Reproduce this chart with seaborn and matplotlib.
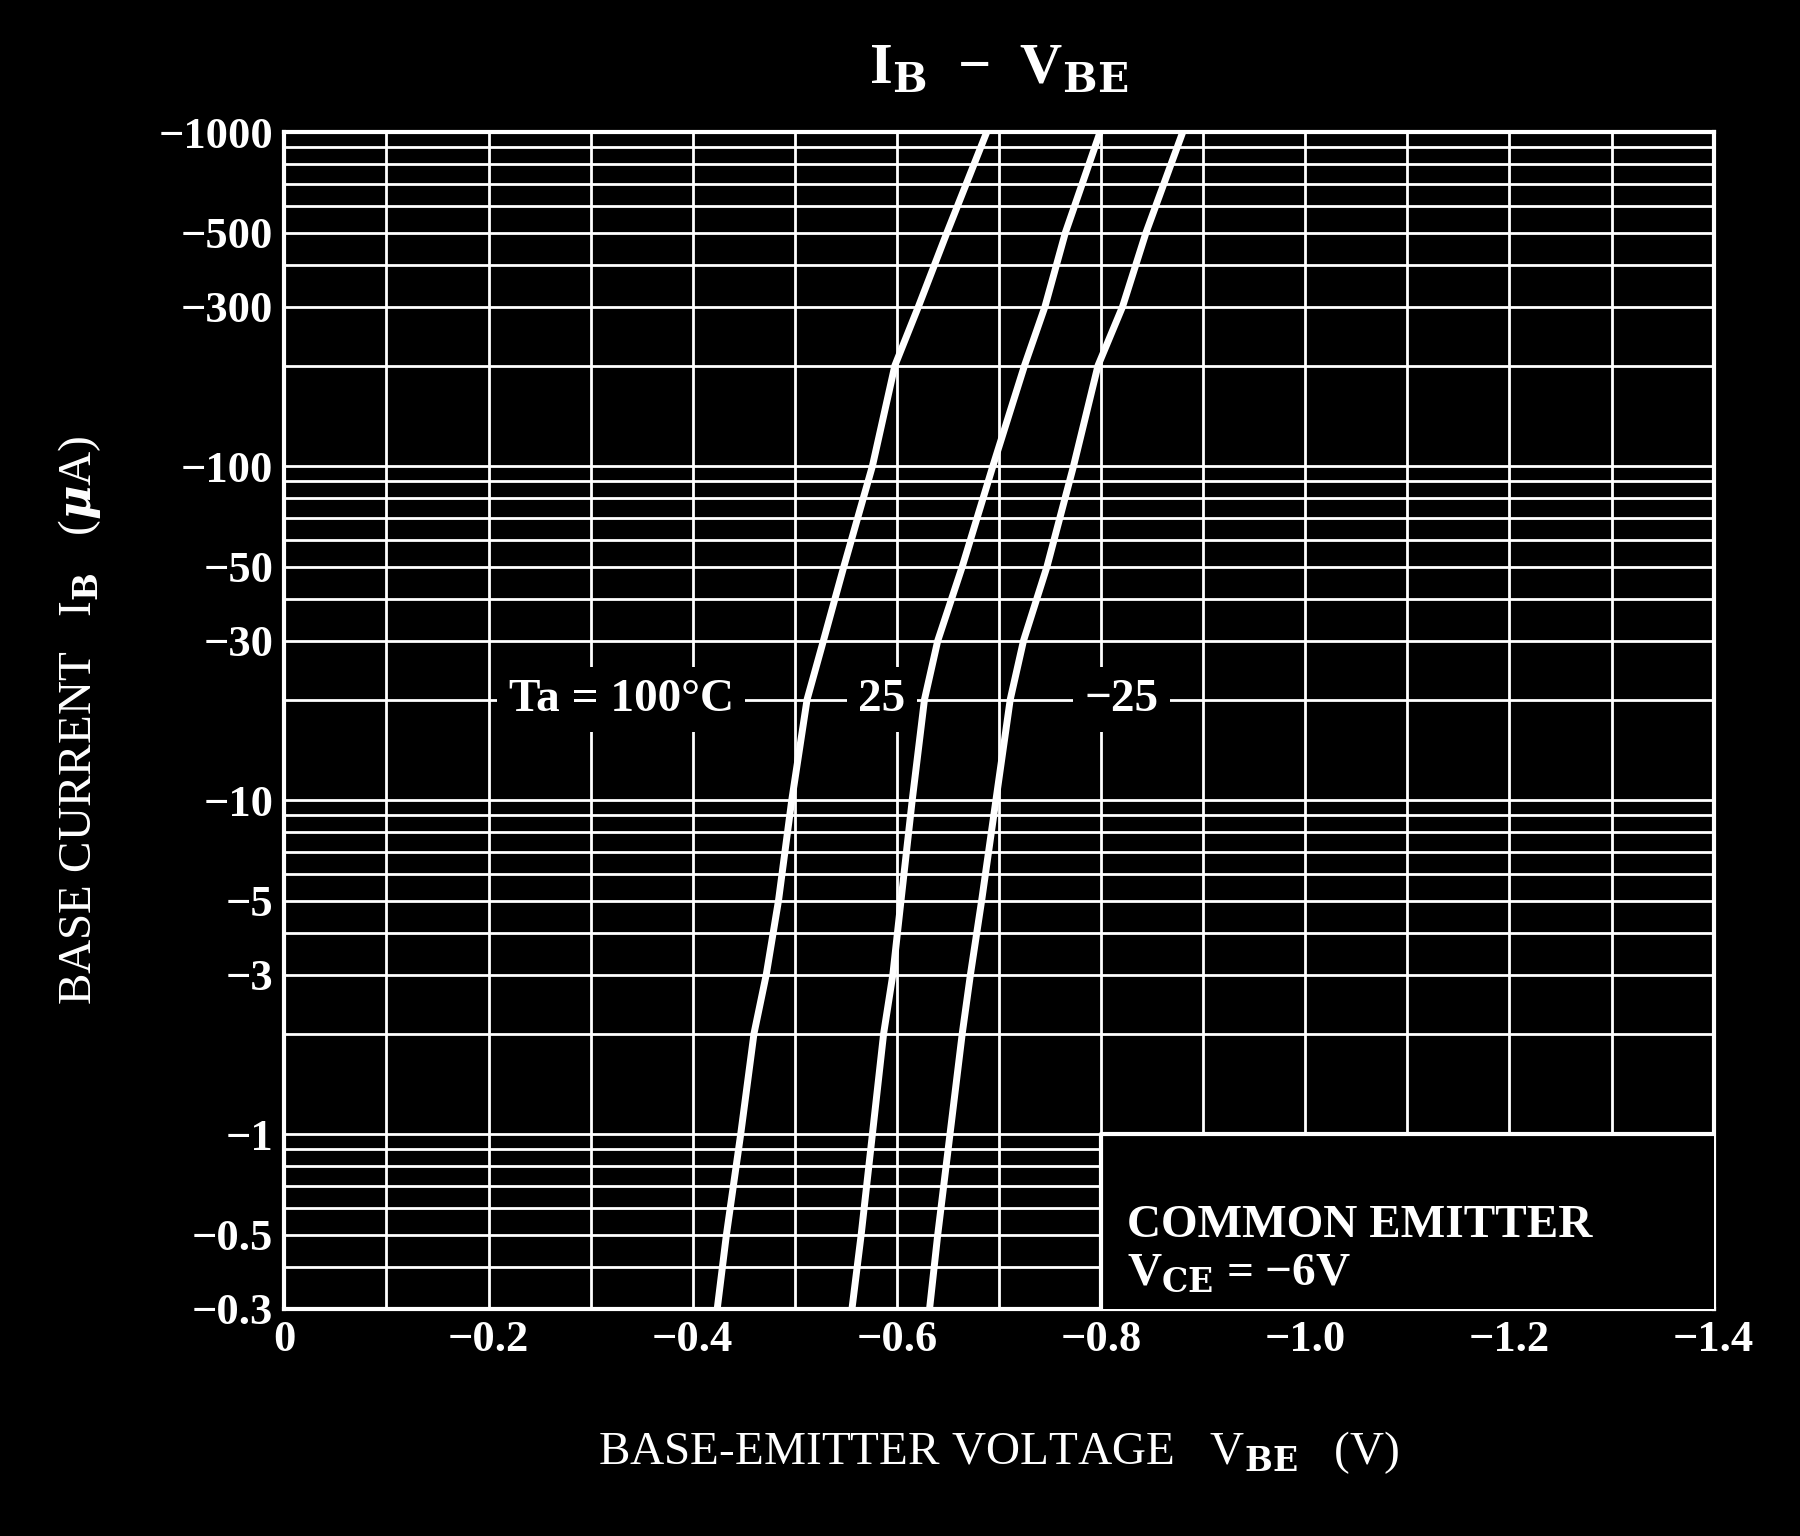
import matplotlib
matplotlib.use("Agg")
import matplotlib.pyplot as plt
import seaborn as sns
import pandas as pd
import numpy as np
from matplotlib.ticker import FixedLocator, NullFormatter

ib = [0.3, 0.5, 1, 2, 3, 5, 10, 20, 30, 50, 100, 200, 300, 500, 1000]
vbe_100 = [0.424, 0.433, 0.447, 0.460, 0.472, 0.484, 0.497, 0.512, 0.528, 0.548, 0.576, 0.598, 0.621, 0.649, 0.688]
vbe_25 = [0.556, 0.565, 0.576, 0.587, 0.596, 0.604, 0.615, 0.627, 0.640, 0.664, 0.694, 0.725, 0.745, 0.765, 0.799]
vbe_m25 = [0.632, 0.640, 0.652, 0.664, 0.672, 0.683, 0.697, 0.711, 0.724, 0.747, 0.773, 0.797, 0.821, 0.844, 0.880]
series = {"100": vbe_100, "25": vbe_25, "-25": vbe_m25}
xticks = [0, 0.2, 0.4, 0.6, 0.8, 1.0, 1.2, 1.4]
xlabels = ["0", "−0.2", "−0.4", "−0.6", "−0.8", "−1.0", "−1.2", "−1.4"]
yticks = [0.3, 0.5, 1, 3, 5, 10, 30, 50, 100, 300, 500, 1000]
ylabels = ["−0.3", "−0.5", "−1", "−3", "−5", "−10", "−30", "−50", "−100", "−300", "−500", "−1000"]

rows = []
for k, v in series.items():
    for x, y in zip(v, ib):
        rows.append({"T": k, "V": x, "I": y})
df = pd.DataFrame(rows)

sns.set_style("dark")
plt.rcParams["font.family"] = ["Liberation Serif", "DejaVu Serif"]
plt.rcParams["mathtext.fontset"] = "dejavuserif"
plt.rcParams["font.weight"] = "bold"

fig = plt.figure(figsize=(18, 15.36), dpi=100, facecolor="black")
ax = fig.add_axes([0.158, 0.148, 0.794, 0.766])
ax.set_facecolor("black")
ax.set_yscale("log")
ax.set_xlim(0, 1.4)
ax.set_ylim(0.3, 1000)

ax.xaxis.set_major_locator(FixedLocator(xticks))
ax.xaxis.set_minor_locator(FixedLocator(np.arange(0.1, 1.4, 0.2)))
ax.set_xticklabels(xlabels)
minors = [m * 10.0 ** e for e in range(-1, 3) for m in range(1, 10)]
minors = [m for m in minors if 0.3 <= m <= 1000]
ax.yaxis.set_major_locator(FixedLocator(yticks))
ax.yaxis.set_minor_locator(FixedLocator(minors))
ax.yaxis.set_minor_formatter(NullFormatter())
ax.set_yticklabels(ylabels)
ax.grid(True, which="both", color="white", linewidth=2)
ax.tick_params(which="both", length=0, colors="white", labelsize=32, pad=8)
for s in ax.spines.values():
    s.set_color("white"); s.set_linewidth(3); s.set_visible(True)

sns.lineplot(data=df, x="V", y="I", hue="T", palette=["white"] * 3,
             linewidth=5, legend=False, ax=ax, sort=False, estimator=None)

bb = dict(facecolor="black", edgecolor="none", pad=8)
ax.text(0.33, 20, "Ta = 100°C", color="white", fontsize=34, ha="center", va="center", bbox=bb)
ax.text(0.585, 20, "25", color="white", fontsize=34, ha="center", va="center", bbox=bb)
ax.text(0.82, 20, "−25", color="white", fontsize=34, ha="center", va="center", bbox=bb)
ax.text(0.825, 0.45, "COMMON EMITTER\nV$_{\\rm CE}$ = −6V",
        color="white", fontsize=34, ha="left", va="center", linespacing=1.2, zorder=5)
ax.fill_between([0.8, 1.4], 0.3, 1.0, facecolor="black", edgecolor="none", zorder=4)
ax.plot([0.8, 0.8, 1.4], [0.3, 1.0, 1.0], color="white", linewidth=3, zorder=4)

ax.set_xlabel("BASE-EMITTER VOLTAGE   V$_{\\rm BE}$   (V)", color="white", fontsize=34, labelpad=50)
ax.set_ylabel("BASE CURRENT   I$_{\\rm B}$   ($\\mu$A)", color="white", fontsize=34, labelpad=40)
fig.text(0.555, 0.955, "I$_{\\rm B}$  −  V$_{\\rm BE}$", color="white", fontsize=42, ha="center", va="center")

fig.savefig("out.png", dpi=100, facecolor="black")
